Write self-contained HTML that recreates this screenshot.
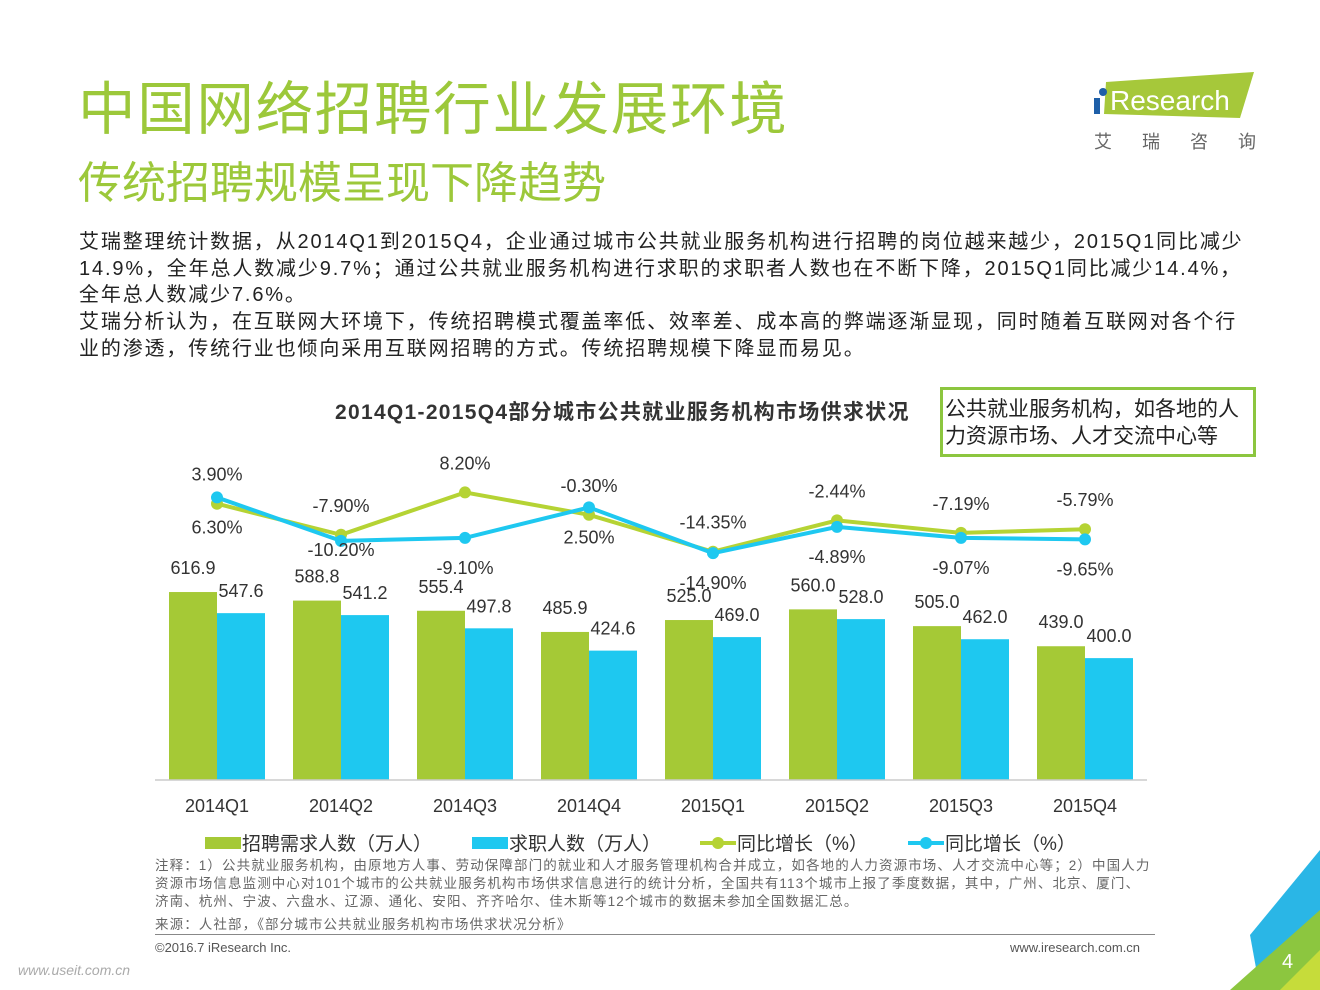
<!DOCTYPE html>
<html><head><meta charset="utf-8"><style>
body{margin:0;width:1320px;height:990px;background:#fff;position:relative;overflow:hidden;font-family:"Liberation Sans","Noto Sans CJK SC",sans-serif}
.a{position:absolute;white-space:nowrap}
</style></head><body>
<div class="a" style="left:78px;top:72px;font-size:57.5px;line-height:76px;color:#9cc83a;letter-spacing:1.7px">中国网络招聘行业发展环境</div>
<div class="a" style="left:78px;top:155px;font-size:44px;line-height:58px;color:#9cc83a">传统招聘规模呈现下降趋势</div>
<div class="a" style="left:1090px;top:70px;width:170px;height:90px">
<svg width="170" height="90"><polygon points="16,12 164,2 150,48 14,44" fill="#a6c83a"/><circle cx="13" cy="22" r="4" fill="#1e5fa8"/><rect x="4" y="28" width="6" height="16" fill="#1e5fa8"/>
<text x="20" y="40" font-size="28" fill="#fff" font-family="Liberation Sans">Research</text>
<text x="4" y="78" font-size="18" fill="#666" font-family="Noto Sans CJK SC" letter-spacing="30">艾瑞咨询</text></svg></div>
<div class="a" style="left:79px;top:229px;font-size:20px;line-height:26.7px;color:#222;letter-spacing:1.85px">艾瑞整理统计数据，从2014Q1到2015Q4，企业通过城市公共就业服务机构进行招聘的岗位越来越少，2015Q1同比减少<br>14.9%，全年总人数减少9.7%；通过公共就业服务机构进行求职的求职者人数也在不断下降，2015Q1同比减少14.4%，<br>全年总人数减少7.6%。<br>艾瑞分析认为，在互联网大环境下，传统招聘模式覆盖率低、效率差、成本高的弊端逐渐显现，同时随着互联网对各个行<br>业的渗透，传统行业也倾向采用互联网招聘的方式。传统招聘规模下降显而易见。</div>
<div class="a" style="left:335px;top:396px;font-size:21px;letter-spacing:1.3px;font-weight:bold;color:#333">2014Q1-2015Q4部分城市公共就业服务机构市场供求状况</div>
<div class="a" style="left:940px;top:387px;width:308px;border:3px solid #8cc63f;font-size:21px;line-height:27px;color:#222;white-space:normal;padding:6px 0 0 2px;height:58px">公共就业服务机构，如各地的人力资源市场、人才交流中心等</div>
<svg id="chart" class="a" style="left:0;top:0" width="1320" height="990"></svg>
<div class="a" style="left:155px;top:857px;font-size:13.5px;line-height:18px;color:#666;letter-spacing:1.1px">注释：1）公共就业服务机构，由原地方人事、劳动保障部门的就业和人才服务管理机构合并成立，如各地的人力资源市场、人才交流中心等；2）中国人力<br>资源市场信息监测中心对101个城市的公共就业服务机构市场供求信息进行的统计分析，全国共有113个城市上报了季度数据，其中，广州、北京、厦门、<br>济南、杭州、宁波、六盘水、辽源、通化、安阳、齐齐哈尔、佳木斯等12个城市的数据未参加全国数据汇总。</div>
<div class="a" style="left:155px;top:913px;font-size:13.5px;color:#666;letter-spacing:1.1px">来源：人社部，《部分城市公共就业服务机构市场供求状况分析》</div>
<div class="a" style="left:155px;top:934px;width:1000px;height:1px;background:#888"></div>
<div class="a" style="left:155px;top:940px;font-size:13px;color:#555">©2016.7 iResearch Inc.</div>
<div class="a" style="left:1010px;top:940px;font-size:13px;color:#555">www.iresearch.com.cn</div>
<div class="a" style="left:18px;top:962px;font-size:14px;color:#aaa;font-style:italic">www.useit.com.cn</div>
<svg class="a" style="left:1220px;top:840px" width="100" height="150"><polygon points="100,10 100,150 40,150 30,95" fill="#2ab6e6"/><polygon points="100,70 100,150 10,150" fill="#8cc63f"/><polygon points="100,110 100,150 60,150" fill="#c6dc3a"/><text x="62" y="128" font-size="20" fill="#fff" font-family="Liberation Sans">4</text></svg>
<script>
const categories=["2014Q1","2014Q2","2014Q3","2014Q4","2015Q1","2015Q2","2015Q3","2015Q4"];
const demand=[616.9,588.8,555.4,485.9,525.0,560.0,505.0,439.0];
const seekers=[547.6,541.2,497.8,424.6,469.0,528.0,462.0,400.0];
const demandGrowth=[3.90,-7.90,8.20,-0.30,-14.35,-2.44,-7.19,-5.79];
const seekerGrowth=[6.30,-10.20,-9.10,2.50,-14.90,-4.89,-9.07,-9.65];
const svg=document.getElementById('chart');const NS='http://www.w3.org/2000/svg';
const xC=i=>217+124*i;const yB=v=>780-v*0.3047;const yL=v=>514-v*2.63;
function mk(t,a,p){const e=document.createElementNS(NS,t);for(const k in a)e.setAttribute(k,a[k]);(p||svg).appendChild(e);return e;}
function txt(x,y,s,name,anchor,size){const e=mk('text',{x:x,y:y,'font-size':size||18,fill:'#333','text-anchor':anchor||'middle','font-family':'Liberation Sans, Noto Sans CJK SC, sans-serif'});e.textContent=s;return e;}
categories.forEach((c,i)=>{
 let b=mk('rect',{x:xC(i)-48,y:yB(demand[i]),width:48,height:780-yB(demand[i]),fill:'#a5c936'});
 
 b=mk('rect',{x:xC(i),y:yB(seekers[i]),width:48,height:780-yB(seekers[i]),fill:'#1ec8f0'});
 
 txt(xC(i)-24,yB(demand[i])-18,demand[i].toFixed(1),'bar-label-demand');
 txt(xC(i)+24,yB(seekers[i])-16,seekers[i].toFixed(1),'bar-label-seekers');
 txt(xC(i),812,c,'x-tick-label');
});
const ax=mk('line',{x1:155,y1:780,x2:1147,y2:780,stroke:'#ccc','stroke-width':1.5});

function line(vals,col,name,dy){
 const p=mk('polyline',{points:vals.map((v,i)=>xC(i)+','+yL(v)).join(' '),fill:'none',stroke:col,'stroke-width':4});
 
 vals.forEach((v,i)=>{const c=mk('circle',{cx:xC(i),cy:yL(v),r:6,fill:col});
  txt(xC(i),yL(v)+dy(i),v.toFixed(2)+'%',name+'-label');});
}
line(demandGrowth,'#b5d334','line-demand-growth',i=>-23);
line(seekerGrowth,'#1ec8f0','line-seeker-growth',i=>i==1?15:36);
const leg=[[205,'rect','#a5c936','招聘需求人数（万人）'],[472,'rect','#1ec8f0','求职人数（万人）'],[700,'line','#b5d334','同比增长（%）'],[908,'line','#1ec8f0','同比增长（%）']];
leg.forEach(l=>{let e;if(l[1]=='rect')e=mk('rect',{x:l[0],y:837,width:36,height:12,fill:l[2]});else{e=mk('line',{x1:l[0],y1:843,x2:l[0]+36,y2:843,stroke:l[2],'stroke-width':4});mk('circle',{cx:l[0]+18,cy:843,r:6,fill:l[2]});}
 
 txt(l[0]+37,850,l[3],'legend-entry','start',19);});
</script>
</body></html>
